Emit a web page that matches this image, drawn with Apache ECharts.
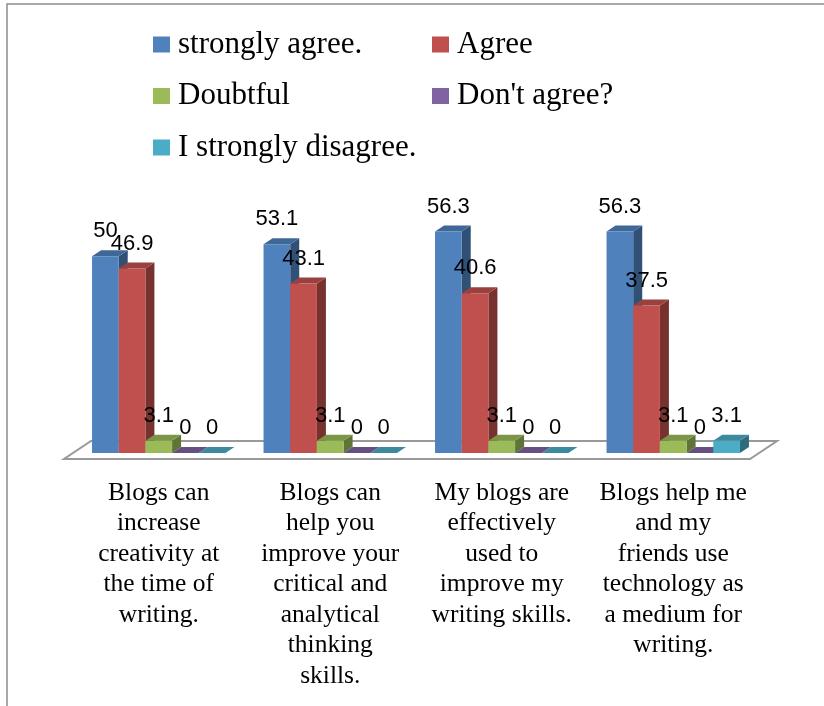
<!DOCTYPE html>
<html><head><meta charset="utf-8">
<script src="https://cdn.jsdelivr.net/npm/echarts@6/dist/echarts.min.js"></script>
<style>html,body{margin:0;padding:0;background:#fff}#c{width:824px;height:706px}</style>
</head><body><div id="c"></div>
<script>
const categories = [
  "Blogs can\nincrease\ncreativity at\nthe time of\nwriting.",
  "Blogs can\nhelp you\nimprove your\ncritical and\nanalytical\nthinking\nskills.",
  "My blogs are\neffectively\nused to\nimprove my\nwriting skills.",
  "Blogs help me\nand my\nfriends use\ntechnology as\na medium for\nwriting."
];
const seriesNames = ["strongly agree.", "Agree", "Doubtful", "Don't agree?", "I strongly disagree."];
const stronglyAgree = [50, 53.1, 56.3, 56.3];
const agree = [46.9, 43.1, 40.6, 37.5];
const doubtful = [3.1, 3.1, 3.1, 3.1];
const dontAgree = [0, 0, 0, 0];
const stronglyDisagree = [0, 0, 0, 3.1];
const seriesValues = [stronglyAgree, agree, doubtful, dontAgree, stronglyDisagree];
const colors = ["#4F81BD", "#C0504D", "#9BBB59", "#8064A2", "#4BACC6"];

const GROUP_FRAC = 0.778;
const DX = 9, DY = 6;

function shade(hex, f) {
  const n = parseInt(hex.slice(1), 16);
  const r = Math.round(((n >> 16) & 255) * f), g = Math.round(((n >> 8) & 255) * f), b = Math.round((n & 255) * f);
  return "rgb(" + r + "," + g + "," + b + ")";
}

function makeRender(s, color) {
  const topC = shade(color, 0.8), sideC = shade(color, 0.62);
  return function (params, api) {
    const ci = api.value(0), v = api.value(1);
    const base = api.coord([ci, 0]);
    const top = api.coord([ci, v]);
    const band = api.size([1, 0])[0];
    const n = seriesNames.length;
    const bw = band * GROUP_FRAC / n;
    const x0 = base[0] - band * GROUP_FRAC / 2 + s * bw;
    const x1 = x0 + bw;
    const yb = base[1], yt = top[1];
    return {
      type: "group",
      children: [
        { type: "polygon", shape: { points: [[x1, yt], [x1 + DX, yt - DY], [x1 + DX, yb - DY], [x1, yb]] }, style: { fill: sideC } },
        { type: "polygon", shape: { points: [[x0, yt], [x1, yt], [x1 + DX, yt - DY], [x0 + DX, yt - DY]] }, style: { fill: topC } },
        { type: "rect", shape: { x: x0, y: yt, width: bw, height: yb - yt }, style: { fill: color } },
        { type: "text", z2: 100, style: { text: String(v), x: (x0 + x1) / 2, y: yt - 25, textAlign: "center", textVerticalAlign: "middle", font: "22px 'Liberation Sans'", fill: "#000" } }
      ]
    };
  };
}

function floorRender(params, api) {
  const cs = params.coordSys;
  const xa = cs.x, xb = cs.x + cs.width, y = cs.y + cs.height;
  return {
    type: "polygon",
    shape: { points: [[xa - DX, y + DY], [xb - DX, y + DY], [xb + 2 * DX, y - 2 * DY], [xa + 2 * DX, y - 2 * DY]] },
    style: { fill: "#fff", stroke: "#999", lineWidth: 2 }
  };
}

const series = [{
  type: "custom", name: "floor", renderItem: floorRender, data: [[0, 0]], silent: true, z: 1
}];
seriesNames.forEach((name, s) => {
  series.push({
    type: "custom",
    name: name,
    itemStyle: { color: colors[s] },
    renderItem: makeRender(s, colors[s]),
    encode: { x: 0, y: 1 },
    data: seriesValues[s].map((v, i) => [i, v]),
    z: 2
  });
});

const legendText = { fontFamily: "Liberation Serif", fontSize: 31, lineHeight: 31, color: "#000", padding: [0, 0, 0, 3] };
const chart = echarts.init(document.getElementById("c"), null, { renderer: "canvas" });
chart.setOption({
  animation: false,
  backgroundColor: "#fff",
  graphic: [{ type: "rect", z: -10, shape: { x: 7, y: 4, width: 1000, height: 1000 }, style: { fill: "none", stroke: "#8c8c8c", lineWidth: 1.5 } }],
  legend: [
    { left: 153, top: 29, orient: "vertical", padding: 0, itemGap: 20.5, icon: "rect", itemWidth: 17, itemHeight: 16, data: [seriesNames[0], seriesNames[2], seriesNames[4]], textStyle: legendText, selectedMode: false },
    { left: 432, top: 29, orient: "vertical", padding: 0, itemGap: 20.5, icon: "rect", itemWidth: 17, itemHeight: 16, data: [seriesNames[1], seriesNames[3]], textStyle: legendText, selectedMode: false }
  ],
  grid: { left: 73, right: 65, top: 217, bottom: 253, containLabel: false },
  xAxis: {
    type: "category", data: categories,
    axisLine: { show: false }, axisTick: { show: false }, splitLine: { show: false },
    axisLabel: { interval: 0, margin: 25, fontFamily: "Liberation Serif", fontSize: 25.5, lineHeight: 30.5, color: "#000" }
  },
  yAxis: { type: "value", min: 0, max: 60, show: false, splitLine: { show: false } },
  series: series
});
</script></body></html>
